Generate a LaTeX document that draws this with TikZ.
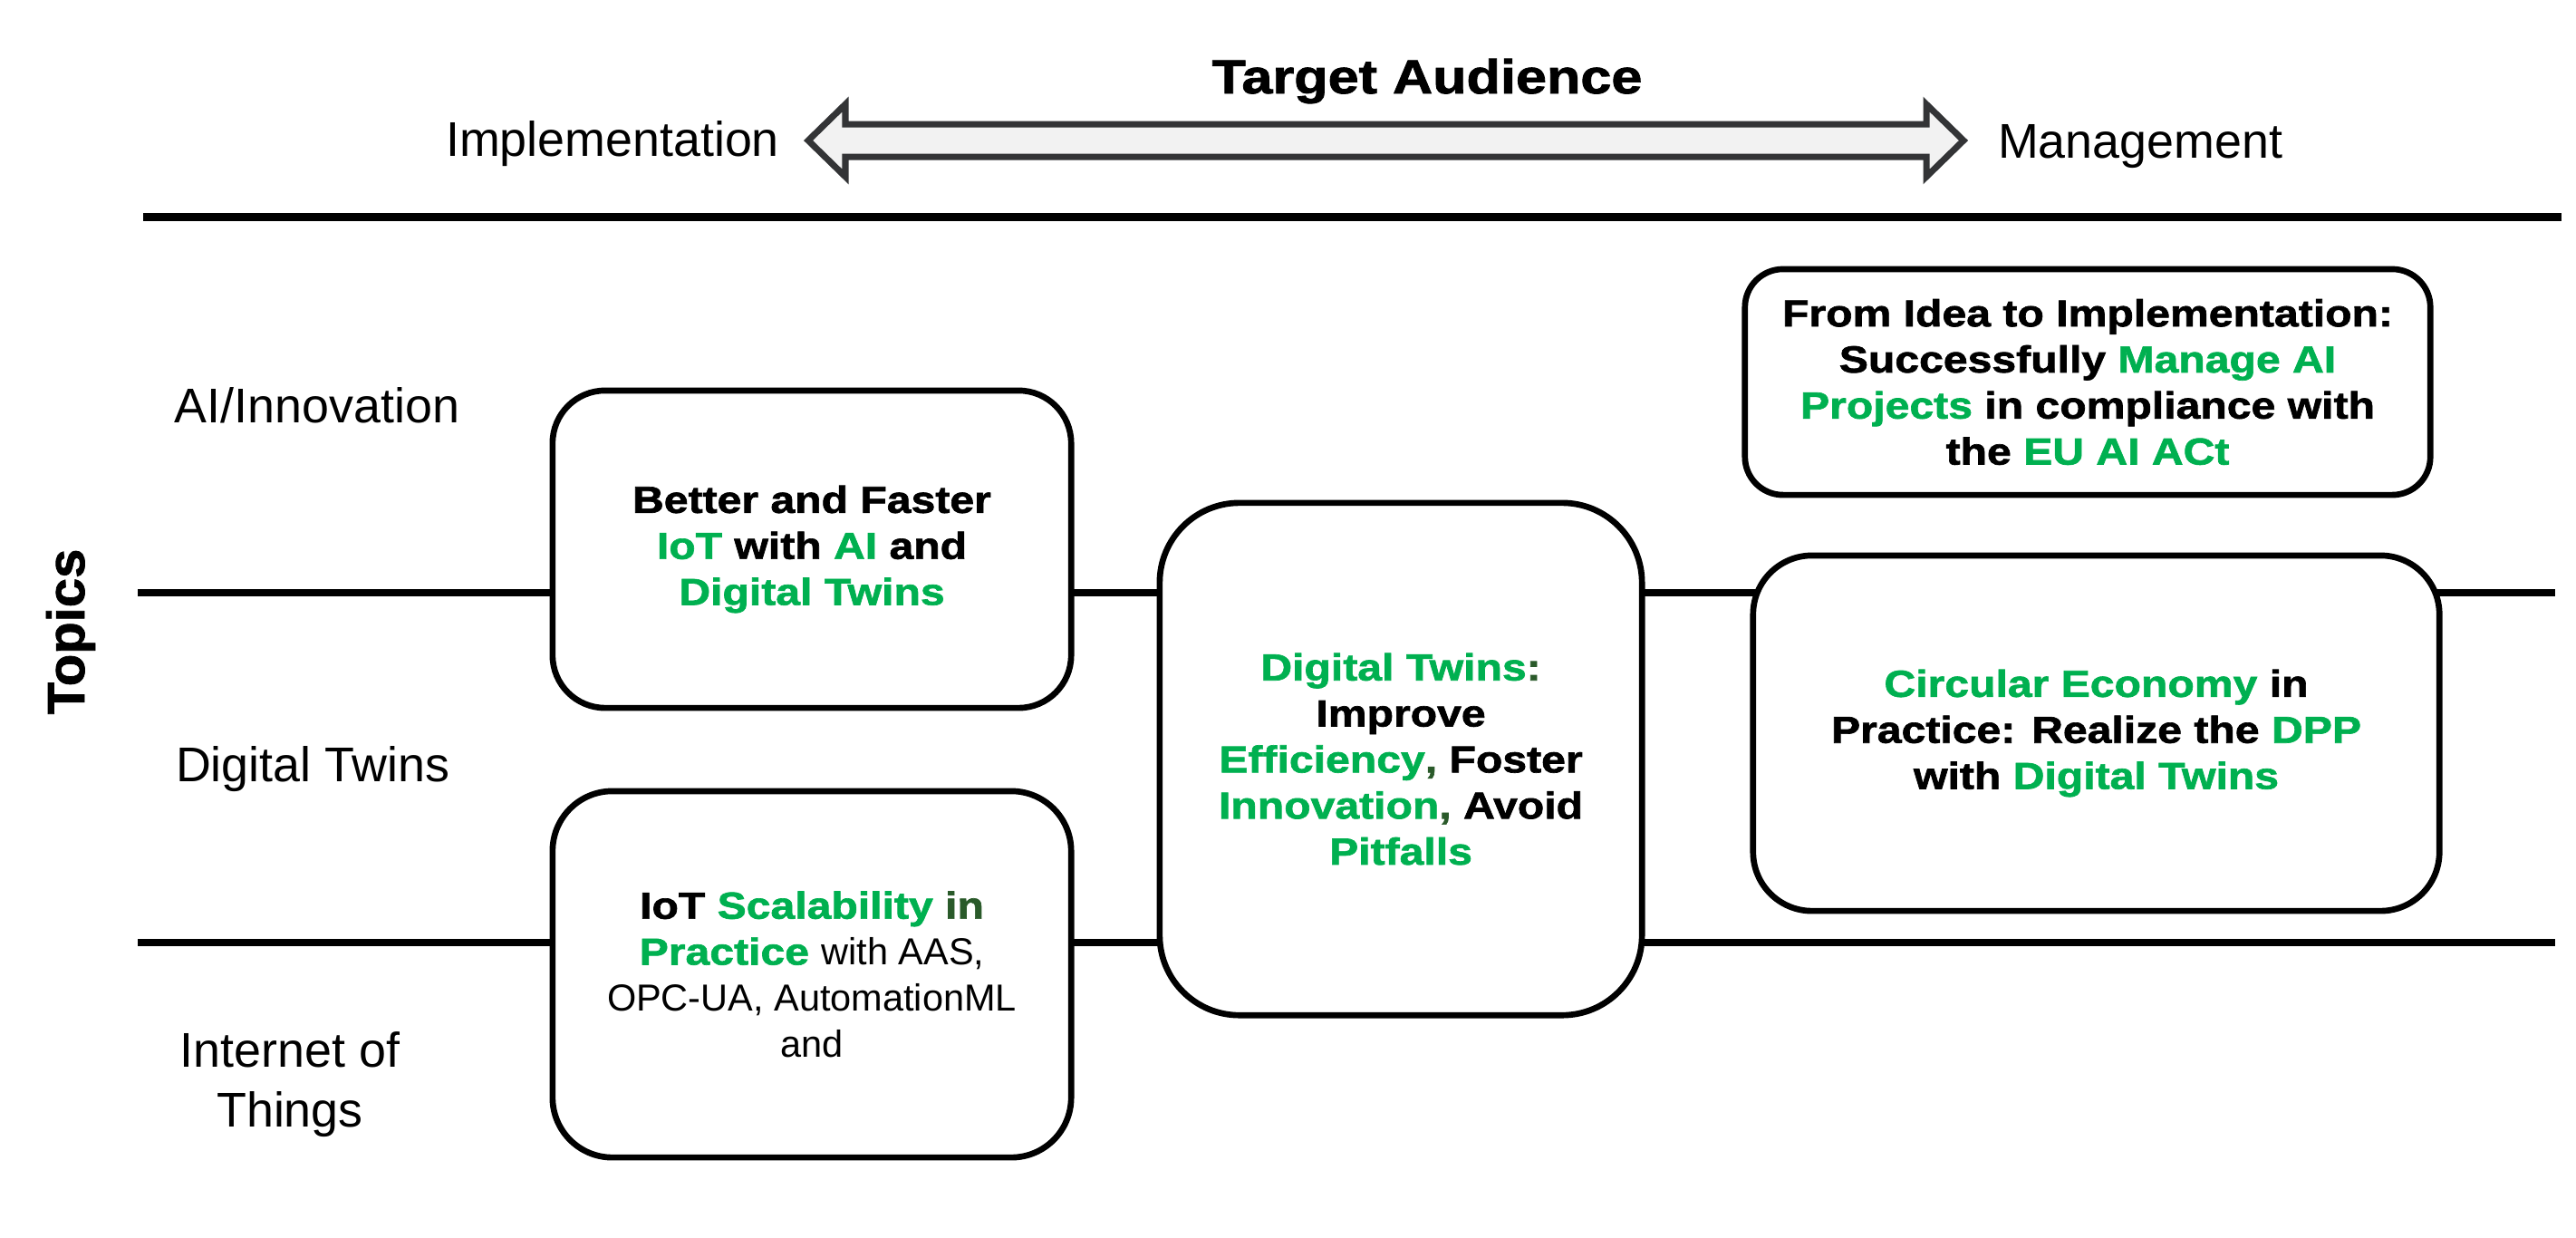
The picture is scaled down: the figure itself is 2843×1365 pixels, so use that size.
\documentclass[tikz,border=0pt]{standalone}
\usepackage{fontspec}
\setmainfont{Liberation Sans}[BoldFeatures={FakeStretch=1.16, FakeBold=1.6}]
\newfontfamily\topicsfont{Liberation Sans Bold}[FakeBold=1.4]
\definecolor{topicgreen}{HTML}{00B050}
\definecolor{darkgreen}{HTML}{2A5A2A}
\definecolor{arrowgray}{HTML}{333436}
\definecolor{arrowfill}{HTML}{F2F2F2}
\newcommand{\grn}[1]{\textcolor{topicgreen}{#1}}
\newcommand{\dgrn}[1]{\textcolor{darkgreen}{#1}}

\begin{document}
\begin{tikzpicture}[
    x=0.01cm, y=-0.01cm,
    topicbox/.style={draw, line width=1.9pt, fill=white, align=center, inner sep=0pt, font=\fontsize{11.8}{14.45}\selectfont\bfseries},
    lanetext/.style={align=center, font=\fontsize{15.3}{18.8}\selectfont},
    lane/.style={line width=2.4pt},
    audarrow/.style={line width=2pt, draw=arrowgray, fill=arrowfill, line join=miter}
]
\useasboundingbox (0,0) rectangle (2843,1365);

% header
\node[font=\fontsize{15}{18}\selectfont\bfseries, anchor=base] (audience) at (1575,103) {Target Audience};
\node[lanetext, anchor=base] (impl) at (676,172) {Implementation};
\node[lanetext, anchor=base] (mgmt) at (2362,174) {Management};
\draw[audarrow] (892,155) -- (933,115) -- (933,137) -- (2126,137) -- (2126,115) -- (2167,155)
    -- (2126,195) -- (2126,173) -- (933,173) -- (933,195) -- cycle;

% separators
\coordinate (rulew) at (158,239.5);
\coordinate (rulee) at (2827,239.5);
\coordinate (lane1w) at (152,654);
\coordinate (lane1e) at (2820,654);
\coordinate (lane2w) at (152,1040);
\coordinate (lane2e) at (2820,1040);
\draw[lane, line width=2.6pt] (rulew) -- (rulee);
\draw[lane] (lane1w) -- (lane1e);
\draw[lane] (lane2w) -- (lane2e);

% topic lanes
\node[font=\fontsize{16.5}{20}\selectfont\topicsfont, rotate=90] (topics) at (78,697) {Topics};
\node[lanetext, anchor=base] (aiinno) at (350,466) {AI/Innovation};
\node[lanetext, anchor=base] (dtlane) at (345,862) {Digital Twins};
\node[lanetext] (iotlane) at (320,1197) {Internet of\\Things};

% talks
\node[topicbox, minimum width=5.72cm, minimum height=3.5cm, rounded corners=0.58cm] (iotai) at (896,606)
    {Better and Faster\\\grn{IoT} with \grn{AI} and\\\grn{Digital Twins}};
\node[topicbox, minimum width=5.72cm, minimum height=4.04cm, rounded corners=0.66cm] (iotscale) at (896,1075)
    {IoT \grn{Scalability} \dgrn{in}\\\grn{Practice} \mdseries with AAS,\\\mdseries OPC-UA, AutomationML\\\mdseries and};
\node[topicbox, minimum width=5.32cm, minimum height=5.65cm, rounded corners=0.88cm] (dtwin) at (1546,837.5)
    {\grn{Digital Twins}\dgrn{:}\\Improve\\\grn{Efficiency}\dgrn{,} Foster\\\grn{Innovation}\dgrn{,} Avoid\\\grn{Pitfalls}};
\node[topicbox, minimum width=7.56cm, minimum height=2.49cm, rounded corners=0.42cm] (aiact) at (2304,421.5)
    {From Idea to Implementation:\\Successfully \grn{Manage AI}\\\grn{Projects} in compliance with\\the \grn{EU AI ACt}};
\node[topicbox, minimum width=7.57cm, minimum height=3.92cm, rounded corners=0.65cm] (circ) at (2313.5,809)
    {\grn{Circular Economy} in\\Practice: Realize the \grn{DPP}\\with \grn{Digital Twins}};
\end{tikzpicture}
\end{document}
